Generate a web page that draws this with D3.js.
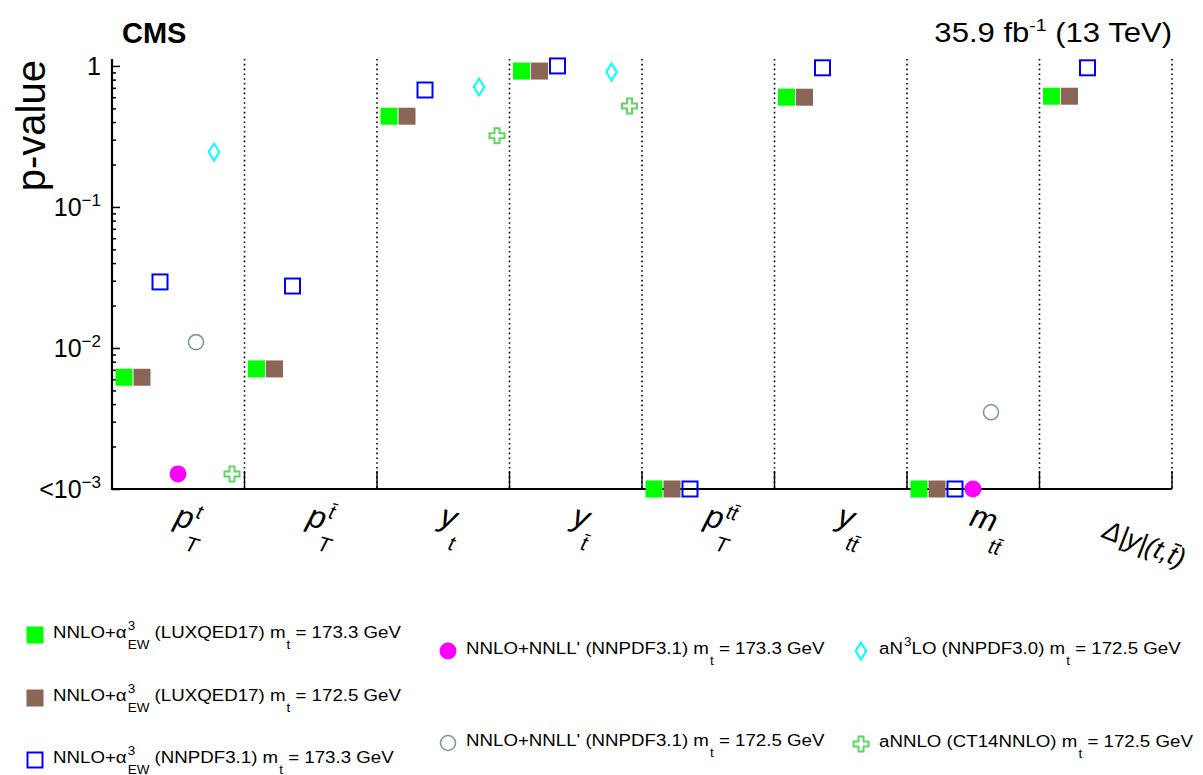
<!DOCTYPE html>
<html>
<head>
<meta charset="utf-8">
<script src="https://cdn.jsdelivr.net/npm/d3@7"></script>
<style>
body { margin: 0; background: #fff; }
svg { font-family: "Liberation Sans", Arial, Helvetica, sans-serif; }
</style>
</head>
<body>
<div id="graph"></div>
<script>
// categories (x axis)
var categories = ["ptt", "pttbar", "yt", "ytbar", "ptttbar", "yttbar", "mttbar", "dy"];
var xLabelMain = ["p", "p", "y", "y", "p", "y", "m", "\u0394|y|(t,t\u0304)"];
var xLabelSup = ["t", "t\u0304", "", "", "tt\u0304", "", "", ""];
var xLabelSub = ["T", "T", "t", "t\u0304", "T", "tt\u0304", "tt\u0304", ""];

// y ticks
var yTickValues = [1, 0.1, 0.01, 0.001];
var yTickBase = ["1", "10", "10", "<10"];
var yTickExp = ["", "\u22121", "\u22122", "\u22123"];

// p-values per model, per category. 0.001 = "<10^-3", null = not shown
var models = ["luxqed1733", "luxqed1725", "nnpdf1733", "nnll1733", "nnll1725", "an3lo", "annlo"];
var luxqed1733 = [0.0062, 0.0071, 0.44, 0.92, 0.001, 0.60, 0.001, 0.61];
var luxqed1725 = [0.0062, 0.0071, 0.44, 0.92, 0.001, 0.60, 0.001, 0.61];
var nnpdf1733  = [0.0294, 0.0275, 0.675, 1.0, 0.001, 0.97, 0.001, 0.97];
var nnll1733   = [0.00128, null, null, null, null, null, 0.001, null];
var nnll1725   = [0.011, null, null, null, null, null, 0.0035, null];
var an3lo      = [0.245, null, 0.71, 0.906, null, null, null, null];
var annlo      = [0.00128, null, 0.32, 0.52, null, null, null, null];

// legend texts (segments: t = normal, sup / sub = small raised / lowered)
var legendLabels = [
	[{t: "NNLO+\u03b1"}, {sup: "3", sub: "EW"}, {t: " (LUXQED17) m"}, {sub: "t"}, {t: " = 173.3 GeV"}],
	[{t: "NNLO+\u03b1"}, {sup: "3", sub: "EW"}, {t: " (LUXQED17) m"}, {sub: "t"}, {t: " = 172.5 GeV"}],
	[{t: "NNLO+\u03b1"}, {sup: "3", sub: "EW"}, {t: " (NNPDF3.1) m"}, {sub: "t"}, {t: " = 173.3 GeV"}],
	[{t: "NNLO+NNLL' (NNPDF3.1) m"}, {sub: "t"}, {t: " = 173.3 GeV"}],
	[{t: "NNLO+NNLL' (NNPDF3.1) m"}, {sub: "t"}, {t: " = 172.5 GeV"}],
	[{t: "aN"}, {sup: "3"}, {t: "LO (NNPDF3.0) m"}, {sub: "t"}, {t: " = 172.5 GeV"}],
	[{t: "aNNLO (CT14NNLO) m"}, {sub: "t"}, {t: " = 172.5 GeV"}]
];

var values = {
	luxqed1733: luxqed1733, luxqed1725: luxqed1725, nnpdf1733: nnpdf1733,
	nnll1733: nnll1733, nnll1725: nnll1725, an3lo: an3lo, annlo: annlo
};

var styles = {
	luxqed1733: {shape: "square", fill: "#00ff00", stroke: "none"},
	luxqed1725: {shape: "square", fill: "#8b6656", stroke: "none"},
	nnpdf1733:  {shape: "osquare", fill: "none", stroke: "#0000ff"},
	nnll1733:   {shape: "circle", fill: "#ff00ff", stroke: "none"},
	nnll1725:   {shape: "ocircle", fill: "none", stroke: "#7e9c8a"},
	an3lo:      {shape: "diamond", fill: "none", stroke: "#00ffff"},
	annlo:      {shape: "cross", fill: "none", stroke: "#5fd65f"}
};
// legend placement (column x, row y)
var legendPos = [[35, 635], [35, 698], [35, 760], [448, 651], [448, 743], [861, 651], [861, 744]];

var W = 1203, H = 775;
var mLeft = 112, mRight = 1172, mTop = 59, mBottom = 489;

var svg = d3.select("#graph").append("svg")
	.attr("width", W).attr("height", H);

var x = d3.scaleBand().domain(categories).range([mLeft, mRight]);
var slot = d3.scalePoint().domain(models).range([12, 120]);
var y = d3.scaleLog().domain([0.001, 1.12]).range([mBottom, mTop]);

// separators (dotted) and x ticks
var bounds = categories.map(function (c) { return x(c) + x.bandwidth(); });
svg.selectAll(".sep").data(bounds).enter().append("line")
	.attr("x1", function (d) { return d; }).attr("x2", function (d) { return d; })
	.attr("y1", mTop).attr("y2", mBottom)
	.attr("stroke", "#000").attr("stroke-width", 1.6).attr("stroke-dasharray", "1.6,3.2");
svg.selectAll(".xtick").data(bounds).enter().append("line")
	.attr("x1", function (d) { return d; }).attr("x2", function (d) { return d; })
	.attr("y1", mBottom - 18).attr("y2", mBottom)
	.attr("stroke", "#000").attr("stroke-width", 1.4);

// y axis ticks, inward
var minor = [];
[0.001, 0.01, 0.1].forEach(function (dec) {
	for (var k = 2; k <= 9; k++) minor.push(dec * k);
});
svg.append("g").attr("transform", "translate(" + mLeft + ",0)")
	.call(d3.axisRight(y).tickValues(minor).tickSize(4).tickFormat(""))
	.call(function (g) { g.select(".domain").remove(); g.selectAll("line").attr("stroke-width", 1.5); });
svg.append("g").attr("transform", "translate(" + mLeft + ",0)")
	.call(d3.axisRight(y).tickValues(yTickValues).tickSize(8).tickFormat(""))
	.call(function (g) { g.select(".domain").remove(); g.selectAll("line").attr("stroke-width", 1.5); });

// axes lines
svg.append("line").attr("x1", mLeft).attr("x2", mLeft).attr("y1", mTop).attr("y2", mBottom + 1)
	.attr("stroke", "#000").attr("stroke-width", 2.2);
svg.append("line").attr("x1", mLeft - 1).attr("x2", mRight).attr("y1", mBottom).attr("y2", mBottom)
	.attr("stroke", "#000").attr("stroke-width", 2.2);

// y tick labels
yTickValues.forEach(function (v, i) {
	var g = svg.append("g");
	var base = g.append("text").attr("font-size", 25).attr("y", 0).text(yTickBase[i]);
	var bw = base.node().getComputedTextLength();
	var ew = 0;
	if (yTickExp[i]) {
		var e = g.append("text").attr("font-size", 17).attr("x", bw).attr("y", -10).text(yTickExp[i]);
		ew = e.node().getComputedTextLength();
	}
	g.attr("transform", "translate(" + (101 - bw - ew) + "," + (y(v) + 9) + ")");
});

// y axis title
svg.append("text")
	.attr("transform", "translate(45,60) rotate(-90)")
	.attr("text-anchor", "end")
	.attr("font-size", 40)
	.text("p-value");

// CMS and lumi
svg.append("text").attr("x", 122).attr("y", 43).attr("font-size", 29).attr("font-weight", "bold").text("CMS");
var lumi = svg.append("text").attr("text-anchor", "end").attr("font-size", 27)
	.attr("transform", "translate(" + mRight + ",42) scale(1.15,1)");
lumi.append("tspan").text("35.9 fb");
lumi.append("tspan").attr("dy", -11).attr("font-size", 17).text("-1");
lumi.append("tspan").attr("dy", 11).text(" (13 TeV)");

// x labels
categories.forEach(function (c, i) {
	var cx = x(c) + x.bandwidth() / 2 - 5;
	var last = i === categories.length - 1;
	var g = svg.append("g")
		.attr("transform", "translate(" + cx + "," + (last ? 537 : 525) + ") rotate(" + (last ? 21 : 16) + ")")
		.attr("font-style", "italic");
	var big = last ? 27 : 32;
	var m = g.append("text").attr("font-size", big).text(xLabelMain[i]);
	var mw = m.node().getComputedTextLength();
	if (xLabelSup[i]) g.append("text").attr("x", mw + 1).attr("y", -13).attr("font-size", 20).text(xLabelSup[i]);
	if (xLabelSub[i]) g.append("text").attr("x", mw - 1).attr("y", 21).attr("font-size", 21).text(xLabelSub[i]);
});

// markers
function drawMarker(g, st, s) {
	var h = s / 2;
	if (st.shape === "square" || st.shape === "osquare") {
		var inset = st.shape === "osquare" ? 1 : 0;
		g.append("rect").attr("x", -h + inset).attr("y", -h + inset)
			.attr("width", s - 2 * inset).attr("height", s - 2 * inset)
			.attr("fill", st.fill).attr("stroke", st.stroke).attr("stroke-width", 2);
	} else if (st.shape === "circle" || st.shape === "ocircle") {
		var r = st.shape === "ocircle" ? h - 1 : h;
		g.append("circle").attr("r", r).attr("fill", st.fill).attr("stroke", st.stroke).attr("stroke-width", 1.6);
	} else if (st.shape === "diamond") {
		g.append("path").attr("d", "M0," + (-h) + "L" + (h * 0.62) + ",0L0," + h + "L" + (-h * 0.62) + ",0Z")
			.attr("fill", st.fill).attr("stroke", st.stroke).attr("stroke-width", 2);
	} else if (st.shape === "cross") {
		var a = h - 1, b = a / 3;
		var pts = [[-b, -a], [b, -a], [b, -b], [a, -b], [a, b], [b, b], [b, a], [-b, a], [-b, b], [-a, b], [-a, -b], [-b, -b]];
		g.append("path").attr("d", "M" + pts.map(function (p) { return p.join(","); }).join("L") + "Z")
			.attr("fill", st.fill).attr("stroke", st.stroke).attr("stroke-width", 2);
	}
}

models.forEach(function (mname) {
	values[mname].forEach(function (v, i) {
		if (v === null) return;
		var g = svg.append("g")
			.attr("transform", "translate(" + (x(categories[i]) + slot(mname)) + "," + y(v) + ")");
		drawMarker(g, styles[mname], 17);
	});
});

// legend
function richText(g, segs, size) {
	var cx = 0;
	segs.forEach(function (s) {
		if (s.t) {
			var t = g.append("text").attr("x", cx).attr("font-size", size).attr("xml:space", "preserve").text(s.t);
			cx += t.node().getComputedTextLength();
		} else {
			var w = 0;
			if (s.sup) {
				var u = g.append("text").attr("x", cx + 1).attr("y", -size * 0.45).attr("font-size", size * 0.72).text(s.sup);
				w = Math.max(w, u.node().getComputedTextLength() + 1);
			}
			if (s.sub) {
				var d = g.append("text").attr("x", cx + 1).attr("y", size * 0.62).attr("font-size", size * 0.72).text(s.sub);
				w = Math.max(w, d.node().getComputedTextLength() + 1);
			}
			cx += w;
		}
	});
}

models.forEach(function (mname, i) {
	var p = legendPos[i];
	var g = svg.append("g").attr("transform", "translate(" + p[0] + "," + p[1] + ")");
	drawMarker(g, styles[mname], 17);
	var tg = svg.append("g").attr("transform", "translate(" + (p[0] + 18) + "," + (p[1] + 3) + ") scale(1.1,1)");
	richText(tg, legendLabels[i], 17);
});
</script>
</body>
</html>
